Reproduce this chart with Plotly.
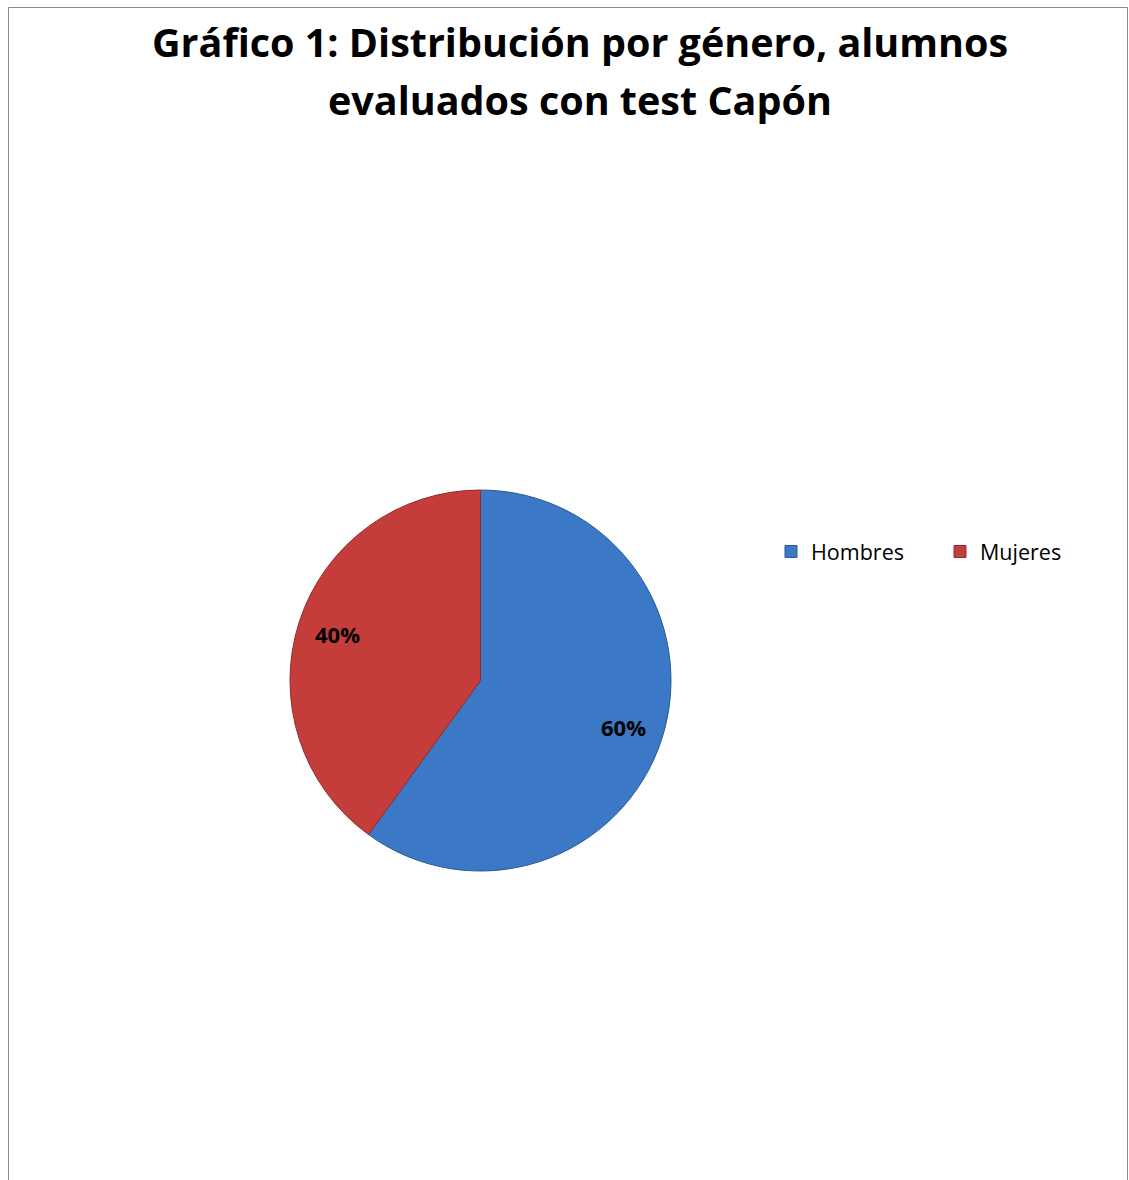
import math
import plotly.graph_objects as go

# Data
categories = ["Hombres", "Mujeres"]
shares = [60, 40]
slice_colors = ["#3b78c5", "#c53d3b"]
edge_colors = ["#2c5a94", "#8f2c2a"]
title_lines = ["Gráfico 1: Distribución por género, alumnos", "evaluados con test Capón"]

W, H = 1129, 1180

# Pie placement in pixels (centre and radius)
CX, CY, R = 480.5, 680.5, 190.5
LABEL_R = 0.79 * R


def px_x(v):
    return v / W


def px_y(v):
    return 1 - v / H


fig = go.Figure(
    go.Pie(
        labels=categories,
        values=shares,
        sort=False,
        direction="clockwise",
        rotation=0,
        marker=dict(colors=slice_colors, line=dict(color=edge_colors, width=1)),
        textinfo="none",
        hoverinfo="label+percent",
        domain=dict(x=[px_x(CX - R), px_x(CX + R)], y=[px_y(CY + R), px_y(CY - R)]),
    )
)

annotations = []
for i, line in enumerate(title_lines):
    annotations.append(
        dict(
            text=f"<b>{line}</b>",
            x=px_x(580),
            y=px_y(42 + 58 * i),
            xref="paper",
            yref="paper",
            xanchor="center",
            yanchor="middle",
            showarrow=False,
            font=dict(family="Open Sans", size=39.5, color="black"),
        )
    )

# Percentage labels placed along each slice's mid angle (clockwise from 12 o'clock)
total = sum(shares)
cum = 0
for name, v in zip(categories, shares):
    mid = 2 * math.pi * (cum + v / 2) / total
    cum += v
    lx = CX + LABEL_R * math.sin(mid)
    ly = CY - LABEL_R * math.cos(mid)
    annotations.append(
        dict(
            text=f"<b>{round(100 * v / total)}%</b>",
            x=px_x(lx),
            y=px_y(ly),
            xref="paper",
            yref="paper",
            xanchor="center",
            yanchor="middle",
            showarrow=False,
            font=dict(family="Open Sans", size=22, color="black"),
        )
    )

# Chart frame: left, top and right edges
frame = dict(type="path", xref="paper", yref="paper",
             path=f"M {px_x(8.5)},{px_y(1200)} L {px_x(8.5)},{px_y(7.5)} "
                  f"L {px_x(1127.5)},{px_y(7.5)} L {px_x(1127.5)},{px_y(1200)}",
             line=dict(color="#8a8a8a", width=1))

fig.update_layout(
    width=W,
    height=H,
    margin=dict(l=0, r=0, t=0, b=0),
    paper_bgcolor="white",
    plot_bgcolor="white",
    annotations=annotations,
    shapes=[frame],
    showlegend=True,
    legend=dict(
        orientation="h",
        x=px_x(771),
        y=px_y(531),
        xanchor="left",
        yanchor="top",
        font=dict(family="Open Sans", size=21.5, color="black"),
        entrywidth=124,
        entrywidthmode="pixels",
        bgcolor="rgba(0,0,0,0)",
    ),
)

fig.write_html("out.html")
